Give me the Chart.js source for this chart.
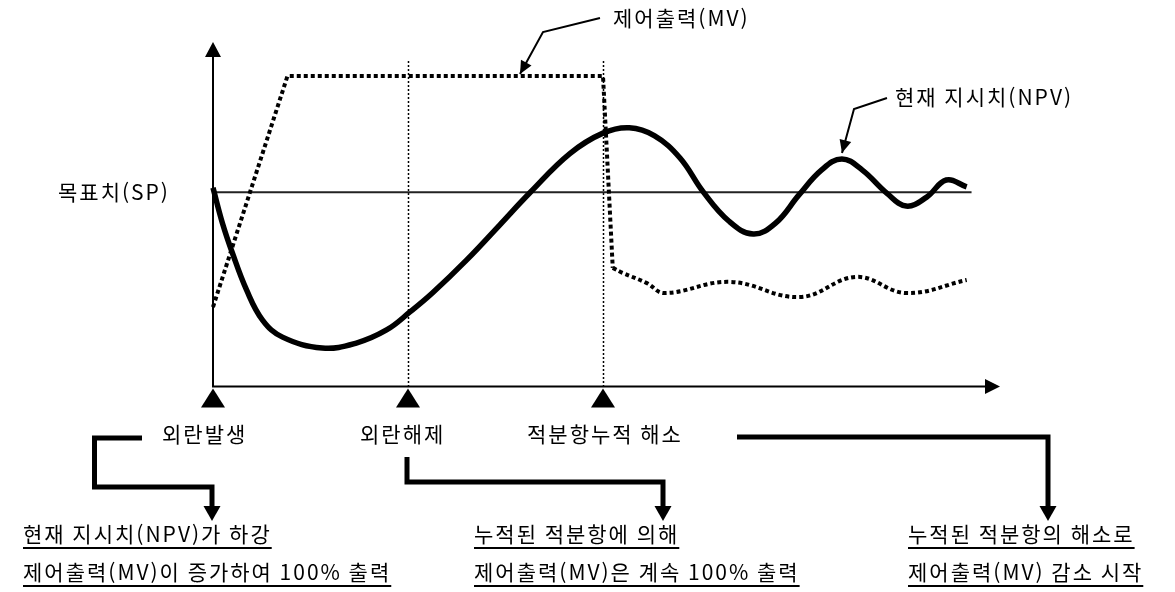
<!DOCTYPE html>
<html lang="ko">
<head>
<meta charset="utf-8">
<title>외란 발생 시 제어출력(MV)과 현재 지시치(NPV)</title>
<script src="https://cdn.jsdelivr.net/npm/chart.js@4.4.1/dist/chart.umd.min.js"></script>
<style>
    html, body { margin: 0; padding: 0; background: #fff; }
    #wrap { width: 1175px; height: 592px; }
</style>
</head>
<body>
<div id="wrap"><canvas id="ctrlChart" width="1175" height="592"></canvas></div>
<script>
// time axis 0..80, output axis 0..100 (%)
const npvTime  = [0, 0.97, 2.0, 3.44, 5.08, 7.13, 11.2, 14.7, 17.8, 20.2, 22.5, 26.0, 29.4, 32.5, 36.6, 40.0, 42.7, 45.3, 47.9, 50.3, 52.9, 55.4, 57.7, 60.1, 62.4, 64.5, 66.6, 69.1, 71.1, 73.2, 75.2, 77.3];
const npvValue = [64, 52.6, 42.9, 31.1, 21.4, 15.9, 12.4, 14.0, 18.2, 24.0, 30.1, 40.7, 52.0, 62.4, 75.0, 81.6, 83.3, 80.7, 73.6, 62.6, 53.3, 49.1, 52.6, 61.7, 69.7, 73.3, 69.7, 62.3, 58.1, 61.0, 66.5, 64.3];

// MV: ramp up, hold at 100%, drop when the integral term is released
const mvRampTime  = [0, 7.64, 40.0, 41.0];
const mvRampValue = [25.6, 100, 100, 38.2];
const mvWaveTime  = [41.0, 42.0, 44.5, 46.3, 53.0, 60.2, 66.0, 71.1, 77.3];
const mvWaveValue = [38.2, 36.6, 33.3, 30.1, 33.7, 28.8, 35.3, 30.1, 34.3];

const spValue = 62.6;
const spRange = [0, 77.8];

const eventTimes  = [0, 20, 40];
const eventLabels = ['외란발생', '외란해제', '적분항누적 해소'];

const spLabel  = '목표치(SP)';
const mvLabel  = '제어출력(MV)';
const npvLabel = '현재 지시치(NPV)';
const notes = [
    ['현재 지시치(NPV)가 하강', '제어출력(MV)이 증가하여 100% 출력'],
    ['누적된 적분항에 의해', '제어출력(MV)은 계속 100% 출력'],
    ['누적된 적분항의 해소로', '제어출력(MV) 감소 시작']
];

const toPoints = (xs, ys) => xs.map((t, i) => ({ x: t, y: ys[i] }));

const FONT = '21px "Noto Sans CJK KR", "Noto Sans", sans-serif';

function fillHead(ctx, fx, fy, tx, ty, len, half) {
    const a = Math.atan2(ty - fy, tx - fx);
    const bx = tx - len * Math.cos(a), by = ty - len * Math.sin(a);
    ctx.beginPath();
    ctx.moveTo(tx, ty);
    ctx.lineTo(bx + half * Math.sin(a), by - half * Math.cos(a));
    ctx.lineTo(bx - half * Math.sin(a), by + half * Math.cos(a));
    ctx.closePath();
    ctx.fill();
}

function leader(ctx, pts) {
    ctx.lineWidth = 2;
    ctx.beginPath();
    ctx.moveTo(pts[0][0], pts[0][1]);
    for (let i = 1; i < pts.length; i++) ctx.lineTo(pts[i][0], pts[i][1]);
    ctx.stroke();
    const p = pts[pts.length - 2], q = pts[pts.length - 1];
    fillHead(ctx, p[0], p[1], q[0], q[1], 13, 6);
}

function bracket(ctx, pts) {
    // thick elbow line ending in a down arrow
    const tip = pts[pts.length - 1];
    ctx.lineWidth = 5;
    ctx.lineJoin = 'miter';
    ctx.beginPath();
    ctx.moveTo(pts[0][0], pts[0][1]);
    for (let i = 1; i < pts.length - 1; i++) ctx.lineTo(pts[i][0], pts[i][1]);
    ctx.lineTo(tip[0], tip[1] - 13);
    ctx.stroke();
    ctx.beginPath();
    ctx.moveTo(tip[0] - 8.5, tip[1] - 15);
    ctx.lineTo(tip[0] + 8.5, tip[1] - 15);
    ctx.lineTo(tip[0], tip[1]);
    ctx.closePath();
    ctx.fill();
}

function text(ctx, str, x, y, underline) {
    ctx.fillText(str, x, y);
    if (underline) {
        const w = ctx.measureText(str).width;
        ctx.fillRect(x, y + 13, w, 2);
    }
}

const diagram = {
    id: 'diagram',
    beforeDatasetsDraw(chart) {
        const { ctx, chartArea: a, scales: { x } } = chart;
        ctx.save();
        ctx.strokeStyle = '#000';
        ctx.lineWidth = 1.5;
        ctx.setLineDash([2, 2]);
        eventTimes.slice(1).forEach(t => {
            const px = Math.round(x.getPixelForValue(t)) + 0.5;
            ctx.beginPath();
            ctx.moveTo(px, a.top - 15);
            ctx.lineTo(px, a.bottom);
            ctx.stroke();
        });
        ctx.restore();
    },
    afterDatasetsDraw(chart) {
        const { ctx, chartArea: a, scales: { x } } = chart;
        ctx.save();
        ctx.fillStyle = '#000';
        ctx.strokeStyle = '#000';

        // axes with arrows
        ctx.lineWidth = 2;
        ctx.beginPath();
        ctx.moveTo(a.left, a.top - 22);
        ctx.lineTo(a.left, a.bottom);
        ctx.lineTo(a.right - 8, a.bottom);
        ctx.stroke();
        ctx.beginPath();
        ctx.moveTo(a.left, a.top - 34);
        ctx.lineTo(a.left - 8, a.top - 19);
        ctx.lineTo(a.left + 8, a.top - 19);
        ctx.closePath();
        ctx.fill();
        ctx.beginPath();
        ctx.moveTo(a.right + 7, a.bottom);
        ctx.lineTo(a.right - 8, a.bottom - 7.5);
        ctx.lineTo(a.right - 8, a.bottom + 7.5);
        ctx.closePath();
        ctx.fill();

        // event markers under the time axis
        eventTimes.forEach(t => {
            const px = x.getPixelForValue(t);
            ctx.beginPath();
            ctx.moveTo(px, a.bottom + 2);
            ctx.lineTo(px - 12, a.bottom + 21);
            ctx.lineTo(px + 12, a.bottom + 21);
            ctx.closePath();
            ctx.fill();
        });

        // labels
        ctx.font = FONT;
        ctx.letterSpacing = '2px';
        ctx.textBaseline = 'middle';
        ctx.textAlign = 'left';
        text(ctx, spLabel, 58, 192);
        text(ctx, mvLabel, 613, 18);
        text(ctx, npvLabel, 895, 97);
        const evLeft = [162, 360, 527];
        eventLabels.forEach((s, i) => text(ctx, s, evLeft[i], 434));

        const noteLeft = [23, 474, 908];
        notes.forEach((pair, i) => {
            text(ctx, pair[0], noteLeft[i], 534, true);
            text(ctx, pair[1], noteLeft[i], 572, true);
        });

        // pointer lines to the curves
        leader(ctx, [[600, 18], [543, 32], [520, 74]]);
        leader(ctx, [[887, 98], [854, 109], [842, 153]]);

        // elbow arrows from the events to the notes
        bracket(ctx, [[142, 438], [94.5, 438], [94.5, 487], [212, 487], [212, 521]]);
        bracket(ctx, [[407, 457], [407, 482], [663, 482], [663, 521]]);
        bracket(ctx, [[737, 437], [1048, 437], [1048, 521]]);

        ctx.restore();
    }
};

new Chart(document.getElementById('ctrlChart').getContext('2d'), {
    type: 'line',
    data: {
        datasets: [
            {
                label: 'NPV',
                data: toPoints(npvTime, npvValue),
                borderColor: '#000',
                borderWidth: 5.5,
                tension: 0.4,
                pointRadius: 0,
                clip: false
            },
            {
                label: 'MV',
                data: toPoints(mvRampTime, mvRampValue),
                borderColor: '#000',
                borderWidth: 4,
                borderDash: [4, 3],
                borderCapStyle: 'butt',
                tension: 0,
                pointRadius: 0,
                clip: false
            },
            {
                label: 'MV (after release)',
                data: toPoints(mvWaveTime, mvWaveValue),
                borderColor: '#000',
                borderWidth: 4,
                borderDash: [4, 3],
                borderCapStyle: 'butt',
                tension: 0.4,
                pointRadius: 0,
                clip: false
            },
            {
                label: 'SP',
                data: toPoints(spRange, [spValue, spValue]),
                borderColor: '#222',
                borderWidth: 2,
                tension: 0,
                pointRadius: 0,
                clip: false
            }
        ]
    },
    options: {
        responsive: false,
        animation: false,
        layout: { padding: { left: 213, right: 182, top: 76, bottom: 205.5 } },
        plugins: { legend: { display: false }, tooltip: { enabled: false } },
        scales: {
            x: { type: 'linear', min: 0, max: 80, display: false },
            y: { type: 'linear', min: 0, max: 100, display: false }
        }
    },
    plugins: [diagram]
});
</script>
</body>
</html>
